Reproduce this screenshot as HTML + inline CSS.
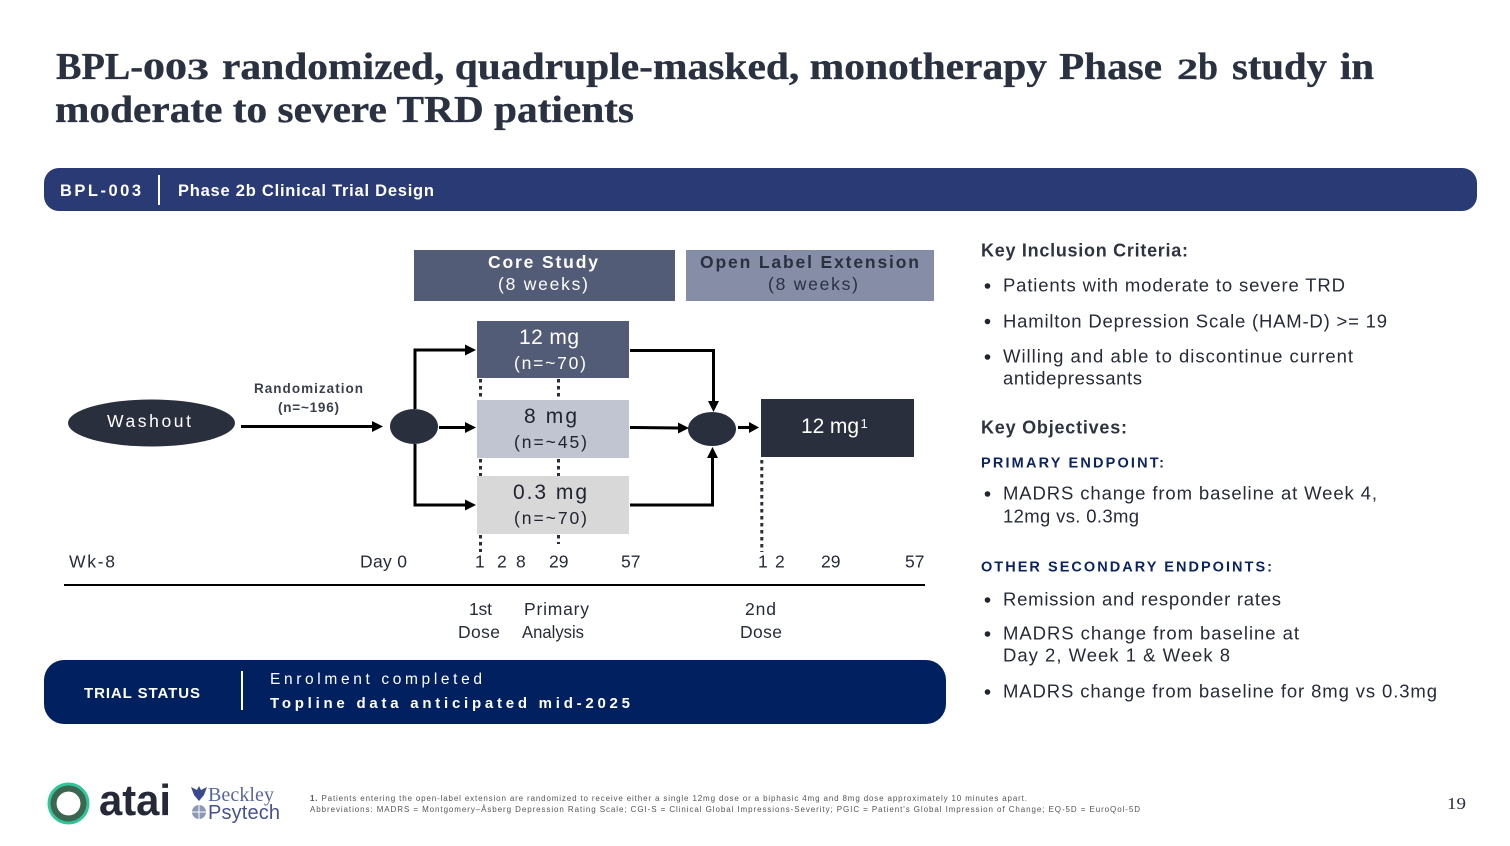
<!DOCTYPE html>
<html><head><meta charset="utf-8"><title>BPL-003 Phase 2b study</title>
<style>
html,body{margin:0;padding:0;background:#fff;width:1510px;height:846px;overflow:hidden}
svg{display:block}
text{font-family:"Liberation Sans",sans-serif;white-space:pre}
.t{font-family:"Liberation Serif",serif;font-weight:700;font-size:38px;fill:#2a3140;stroke:#2a3140;stroke-width:.35}
.d{font-size:30px}
.b{font-size:18.5px;fill:#262b38}
.h{font-size:18px;font-weight:700;fill:#2d3340}
.e{font-size:14.5px;font-weight:700;fill:#0b2460}
.w{font-size:17.5px;fill:#262b38}
.f{font-size:8px;fill:#555}
</style></head><body>
<svg width="1510" height="846" viewBox="0 0 1510 846" xmlns="http://www.w3.org/2000/svg">
<rect width="1510" height="846" fill="#fff"/>

<text class="t" x="56" y="79" textLength="87" lengthAdjust="spacingAndGlyphs">BPL-</text>
<text class="t d" x="143" y="79" textLength="66" lengthAdjust="spacingAndGlyphs">003</text>
<text class="t" x="222" y="79" textLength="825" lengthAdjust="spacingAndGlyphs">randomized, quadruple-masked, monotherapy</text>
<text class="t" x="1059" y="79" textLength="103" lengthAdjust="spacingAndGlyphs">Phase</text>
<text class="t d" x="1177" y="79" textLength="21" lengthAdjust="spacingAndGlyphs">2</text>
<text class="t" x="1198" y="79" textLength="20" lengthAdjust="spacingAndGlyphs">b</text>
<text class="t" x="1232" y="79" textLength="95" lengthAdjust="spacingAndGlyphs">study</text>
<text class="t" x="1340" y="79" textLength="34" lengthAdjust="spacingAndGlyphs">in</text>
<text class="t" x="55" y="122" textLength="579" lengthAdjust="spacingAndGlyphs">moderate to severe TRD patients</text>

<rect x="44" y="168" width="1433" height="43" rx="15" fill="#2a3a75"/>
<text x="60" y="196" font-size="16.5" font-weight="700" fill="#fff" textLength="81" lengthAdjust="spacing">BPL-003</text>
<rect x="158" y="175" width="2" height="30" fill="#fff"/>
<text x="178" y="196" font-size="16.5" font-weight="700" fill="#fff" textLength="256" lengthAdjust="spacing">Phase 2b Clinical Trial Design</text>

<rect x="414" y="250" width="261" height="51" fill="#535c76"/>
<text x="488" y="268" font-size="17.5" font-weight="700" fill="#fff" textLength="110" lengthAdjust="spacing">Core Study</text>
<text x="498" y="290" font-size="17.5" fill="#fff" textLength="90" lengthAdjust="spacing">(8 weeks)</text>
<rect x="686" y="250" width="248" height="51" fill="#868da7"/>
<text x="700" y="268" font-size="17.5" font-weight="700" fill="#2a3040" textLength="219" lengthAdjust="spacing">Open Label Extension</text>
<text x="768" y="290" font-size="17.5" fill="#2a3040" textLength="90" lengthAdjust="spacing">(8 weeks)</text>

<rect x="477" y="321" width="152" height="57" fill="#535c76"/>
<rect x="477" y="400" width="152" height="58" fill="#c1c5d2"/>
<rect x="477" y="476" width="152" height="58" fill="#d8d8d8"/>
<rect x="761" y="399" width="153" height="58" fill="#2a2f3d"/>

<g fill="none" stroke="#2a2f3d" stroke-width="3" stroke-dasharray="3.5 3.5">
<path d="M480.500 379V400M480.500 459V476M480.500 535V552M558.500 379V400M558.500 459V476M558.500 535V544"/>
<path d="M761.800 460V552"/>
</g>

<text x="519" y="344" font-size="21" fill="#fff" textLength="60" lengthAdjust="spacing">12 mg</text>
<text x="514" y="369" font-size="17.5" fill="#fff" textLength="72" lengthAdjust="spacing">(n=~70)</text>
<text x="524" y="423" font-size="21" fill="#20242e" textLength="53" lengthAdjust="spacing">8 mg</text>
<text x="514" y="448" font-size="17.5" fill="#20242e" textLength="73" lengthAdjust="spacing">(n=~45)</text>
<text x="513" y="499" font-size="21" fill="#20242e" textLength="74" lengthAdjust="spacing">0.3 mg</text>
<text x="514" y="524" font-size="17.5" fill="#20242e" textLength="73" lengthAdjust="spacing">(n=~70)</text>
<text x="801" y="433" font-size="21" fill="#fff" textLength="58" lengthAdjust="spacing">12 mg</text>
<text x="860.500" y="428" font-size="13" fill="#fff">1</text>

<ellipse cx="151.500" cy="423" rx="83.500" ry="23.500" fill="#2a2f3d"/>
<text x="107" y="427" font-size="17.5" fill="#fff" textLength="84" lengthAdjust="spacing">Washout</text>
<text x="254" y="393" font-size="13.500" font-weight="700" fill="#3a3f4c" textLength="109" lengthAdjust="spacing">Randomization</text>
<text x="278" y="412" font-size="13.500" font-weight="700" fill="#3a3f4c" textLength="61" lengthAdjust="spacing">(n=~196)</text>
<ellipse cx="414" cy="426.500" rx="24" ry="17.500" fill="#2a2f3d"/>
<ellipse cx="712" cy="429" rx="24" ry="17" fill="#2a2f3d"/>

<g fill="none" stroke="#000" stroke-width="3">
<path d="M241 426.500H372"/>
<path d="M415 409V350H466"/>
<path d="M439 427.500H466"/>
<path d="M415 444V505H466"/>
<path d="M630 350.500H713.500V401"/>
<path d="M630 427.500L679 428"/>
<path d="M630 505H712.500V458"/>
<path d="M738 427.500H749"/>
<path d="M64 585H925" stroke-width="2"/>
</g>
<g fill="#000">
<path d="M372 421L383 426.500L372 432z"/>
<path d="M465 344.500L476 350L465 355.500z"/>
<path d="M465 422L476 427.500L465 433z"/>
<path d="M465 499.500L476 505L465 510.500z"/>
<path d="M708 401H719L713.500 412z"/>
<path d="M678 422.500L689 428L678 433.500z"/>
<path d="M707 458H718L712.500 447z"/>
<path d="M749 422L759 427.500L749 433z"/>
</g>

<text class="w" x="69" y="567.500" textLength="46" lengthAdjust="spacing">Wk-8</text>
<text class="w" x="360" y="567.500" textLength="47" lengthAdjust="spacing">Day 0</text>
<text class="w" x="475" y="567.500">1</text>
<text class="w" x="497" y="567.500">2</text>
<text class="w" x="516" y="567.500">8</text>
<text class="w" x="549" y="567.500">29</text>
<text class="w" x="621" y="567.500">57</text>
<text class="w" x="758" y="567.500">1</text>
<text class="w" x="775" y="567.500">2</text>
<text class="w" x="821" y="567.500">29</text>
<text class="w" x="905" y="567.500">57</text>
<text class="w" x="469" y="615" textLength="23" lengthAdjust="spacing">1st</text>
<text class="w" x="458" y="638" textLength="42" lengthAdjust="spacing">Dose</text>
<text class="w" x="524" y="615" textLength="65" lengthAdjust="spacing">Primary</text>
<text class="w" x="522" y="638" textLength="62" lengthAdjust="spacingAndGlyphs">Analysis</text>
<text class="w" x="745" y="615" textLength="31" lengthAdjust="spacing">2nd</text>
<text class="w" x="740" y="638" textLength="42" lengthAdjust="spacing">Dose</text>

<rect x="44" y="660" width="902" height="64" rx="20" fill="#01205f"/>
<text x="84" y="698" font-size="15" font-weight="700" fill="#fff" textLength="116" lengthAdjust="spacing">TRIAL STATUS</text>
<rect x="241" y="671" width="2" height="39" fill="#fff"/>
<text x="270" y="684" font-size="15.500" fill="#fff" textLength="212" lengthAdjust="spacing">Enrolment completed</text>
<text x="270" y="708" font-size="15" font-weight="700" fill="#fff" textLength="360" lengthAdjust="spacing">Topline data anticipated mid-2025</text>

<g transform="translate(0,-0.6)">
<text class="h" x="981" y="257" textLength="207" lengthAdjust="spacing">Key Inclusion Criteria:</text>
<text class="b" x="1003" y="292" textLength="342" lengthAdjust="spacing">Patients with moderate to severe TRD</text>
<text class="b" x="1003" y="328" textLength="384" lengthAdjust="spacing">Hamilton Depression Scale (HAM-D) &gt;= 19</text>
<text class="b" x="1003" y="363" textLength="350" lengthAdjust="spacing">Willing and able to discontinue current</text>
<text class="b" x="1003" y="385" textLength="139" lengthAdjust="spacing">antidepressants</text>
<text class="h" x="981" y="434" textLength="146" lengthAdjust="spacing">Key Objectives:</text>
<text class="e" x="981" y="468" textLength="183" lengthAdjust="spacing">PRIMARY ENDPOINT:</text>
<text class="b" x="1003" y="500" textLength="374" lengthAdjust="spacing">MADRS change from baseline at Week 4,</text>
<text class="b" x="1003" y="523" textLength="136" lengthAdjust="spacing">12mg vs. 0.3mg</text>
<text class="e" x="981" y="572" textLength="291" lengthAdjust="spacing">OTHER SECONDARY ENDPOINTS:</text>
<text class="b" x="1003" y="606" textLength="278" lengthAdjust="spacing">Remission and responder rates</text>
<text class="b" x="1003" y="640" textLength="296" lengthAdjust="spacing">MADRS change from baseline at</text>
<text class="b" x="1003" y="662" textLength="227" lengthAdjust="spacing">Day 2, Week 1 &amp; Week 8</text>
<text class="b" x="1003" y="698" textLength="434" lengthAdjust="spacing">MADRS change from baseline for 8mg vs 0.3mg</text>
</g>
<g fill="#20242e">
<circle cx="987.500" cy="286" r="2.800"/><circle cx="987.500" cy="321.500" r="2.800"/><circle cx="987.500" cy="357" r="2.800"/>
<circle cx="987.500" cy="494" r="2.800"/><circle cx="987.500" cy="600" r="2.800"/><circle cx="987.500" cy="634" r="2.800"/><circle cx="987.500" cy="692" r="2.800"/>
</g>

<circle cx="68.500" cy="803.500" r="16.500" fill="none" stroke="#2fc79a" stroke-width="9"/>
<circle cx="68.500" cy="803.500" r="15" fill="none" stroke="#3d6650" stroke-width="6"/>
<text x="99" y="815" font-size="44" font-weight="700" fill="#262a38" textLength="72" lengthAdjust="spacingAndGlyphs">atai</text>
<path d="M191 787L197 790L199 786L201 790L207 787L204 795L199 801L194 795z" fill="#3b4a8c"/>
<circle cx="199" cy="812" r="7" fill="#8d97b8"/>
<path d="M192 812H206M199 805V819" stroke="#fff" stroke-width="1"/>
<text x="208" y="801" font-size="20" fill="#5a66a0" textLength="66" lengthAdjust="spacing" style="font-family:'Liberation Serif',serif">Beckley</text>
<text x="208" y="819" font-size="20" fill="#45528f" textLength="72" lengthAdjust="spacing">Psytech</text>

<text class="f" x="310" y="801" textLength="717" lengthAdjust="spacing"><tspan font-weight="700">1.</tspan> Patients entering the open-label extension are randomized to receive either a single 12mg dose or a biphasic 4mg and 8mg dose approximately 10 minutes apart.</text>
<text class="f" x="310" y="812" textLength="830" lengthAdjust="spacing">Abbreviations: MADRS = Montgomery–Åsberg Depression Rating Scale; CGI-S = Clinical Global Impressions-Severity; PGIC = Patient's Global Impression of Change; EQ-5D = EuroQol-5D</text>
<text x="1447" y="809" font-size="17" fill="#2a3140" textLength="19" lengthAdjust="spacingAndGlyphs" style="font-family:'Liberation Serif',serif">19</text>
</svg>
</body></html>
